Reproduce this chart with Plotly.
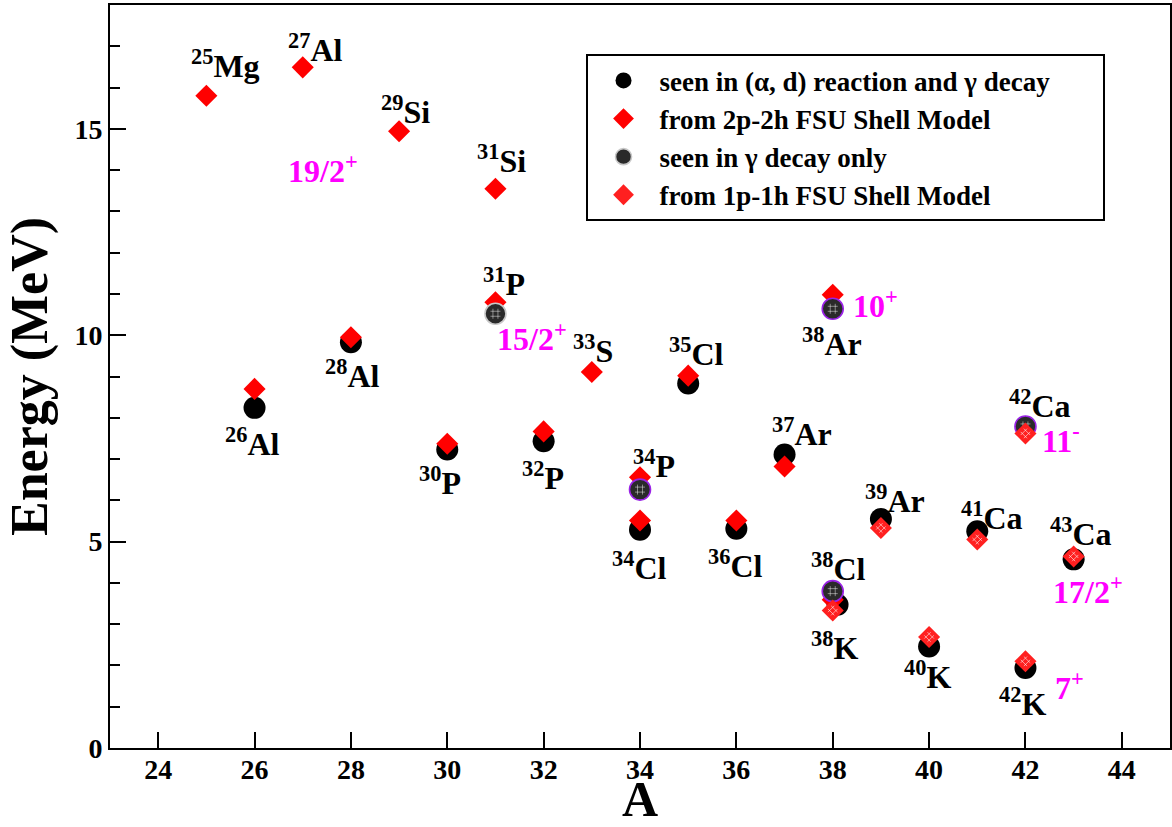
import plotly.graph_objects as go

FONT = "Liberation Serif, Times New Roman, serif"

# ---- data (A = mass number, E = excitation energy in MeV) ----
seen_ad_A = [26, 28, 30, 32, 34, 35, 36, 37, 38.1, 39, 40, 41, 42, 43]
seen_ad_E = [8.24, 9.83, 7.23, 7.43, 5.29, 8.83, 5.31, 7.11, 3.47, 5.55, 2.46, 5.25, 1.94, 4.57]

sm2p2h_A = [25, 26, 27, 28, 29, 30, 31, 31, 32, 33, 34, 34, 35, 36, 37, 38, 38]
sm2p2h_E = [15.80, 8.70, 16.49, 9.95, 14.94, 7.37, 13.55, 10.80, 7.67, 9.11, 6.56, 5.51,
            9.02, 5.51, 6.82, 10.98, 3.59]

gamma_A = [31, 34, 38, 38, 42]
gamma_E = [10.52, 6.26, 10.64, 3.80, 7.79]
gamma_nuc = ["31P", "34P", "38Ar", "38Cl", "42Ca"]

sm1p1h_A = [38, 39, 40, 41, 42, 42, 43]
sm1p1h_E = [3.33, 5.33, 2.69, 5.05, 2.10, 7.62, 4.64]

# nucleus labels: mass number, symbol, label anchor (A, E)
nuc_mass = ["25", "27", "29", "31", "31", "33", "35", "26", "28", "30", "32", "34", "34",
            "36", "37", "38", "39", "41", "42", "43", "38", "38", "40", "42"]
nuc_sym = ["Mg", "Al", "Si", "Si", "P", "S", "Cl", "Al", "Al", "P", "P", "P", "Cl",
           "Cl", "Ar", "Ar", "Ar", "Ca", "Ca", "Ca", "Cl", "K", "K", "K"]
nuc_lab_A = [24.63, 26.66, 28.58, 30.58, 30.71, 32.57, 34.57, 25.35, 27.42, 29.37, 31.51,
             33.82, 33.37, 35.37, 36.70, 37.32, 38.63, 40.63, 41.62, 42.47, 37.51, 37.51,
             39.43, 41.40]
nuc_lab_E = [16.48, 16.85, 15.35, 14.18, 11.19, 9.57, 9.49, 7.31, 8.97, 6.38, 6.50,
             6.79, 4.32, 4.36, 7.57, 9.75, 5.94, 5.53, 8.24, 5.13, 4.30, 2.38, 1.66, 1.01]

# spin-parity labels
spin_val = ["19/2", "15/2", "10", "11", "17/2", "7"]
spin_par = ["+", "+", "+", "-", "+", "+"]
spin_lab_A = [26.66, 30.99, 38.38, 42.30, 42.54, 42.57]
spin_lab_E = [13.94, 9.85, 10.66, 7.39, 3.72, 1.41]

x_ticks = [24, 26, 28, 30, 32, 34, 36, 38, 40, 42, 44]
y_ticks = [0, 5, 10, 15]

# ---- figure ----
fig = go.Figure()

PAD = "\u00a0" * 7

fig.add_trace(go.Scatter(
    x=seen_ad_A, y=seen_ad_E, mode="markers",
    name="seen in (\u03b1, d) reaction and \u03b3 decay" + PAD, legendgroup="g1",
    marker=dict(symbol="circle", size=22, color="black", line=dict(width=0))))

fig.add_trace(go.Scatter(
    x=sm2p2h_A, y=sm2p2h_E, mode="markers",
    name="from 2p-2h FSU Shell Model", legendgroup="g2",
    marker=dict(symbol="diamond", size=17, color="#ff0000", line=dict(width=0))))

rim = ["#c8c8c8" if n == "31P" else "#9a22e6" for n in gamma_nuc]
fig.add_trace(go.Scatter(
    x=gamma_A, y=gamma_E, mode="markers",
    name="seen in \u03b3 decay only", legendgroup="g3",
    marker=dict(symbol="circle", size=21, color="#2a2a2a", line=dict(width=1.6, color=rim))))
fig.add_trace(go.Scatter(
    x=gamma_A, y=gamma_E, mode="markers", showlegend=False, hoverinfo="skip",
    legendgroup="g3",
    marker=dict(symbol="hash-open", size=10, color="rgba(255,255,255,0.45)",
                line=dict(width=1))))

fig.add_trace(go.Scatter(
    x=sm1p1h_A, y=sm1p1h_E, mode="markers",
    name="from 1p-1h FSU Shell Model", legendgroup="g4",
    marker=dict(symbol="diamond", size=17, color="#ff2020", line=dict(width=0))))
fig.add_trace(go.Scatter(
    x=sm1p1h_A, y=sm1p1h_E, mode="markers", showlegend=False, hoverinfo="skip",
    legendgroup="g4",
    marker=dict(symbol="hash-open", size=9, angle=45, color="rgba(255,255,255,0.55)",
                line=dict(width=1))))

annotations = []
for m, s, a, e in zip(nuc_mass, nuc_sym, nuc_lab_A, nuc_lab_E):
    annotations.append(dict(
        x=a, y=e, xref="x", yref="y", text=f"<sup>{m}</sup>{s}", showarrow=False,
        xanchor="left", yanchor="middle", yshift=4,
        font=dict(family=FONT, size=32, color="black", weight="bold")))
for v, p, a, e in zip(spin_val, spin_par, spin_lab_A, spin_lab_E):
    annotations.append(dict(
        x=a, y=e, xref="x", yref="y", text=f"{v}<sup>{p}</sup>", showarrow=False,
        xanchor="left", yanchor="middle", yshift=4,
        font=dict(family=FONT, size=32, color="#ff00ff", weight="bold")))

axis_common = dict(
    showgrid=False, zeroline=False, showline=True, linewidth=2, linecolor="black",
    mirror=True, ticks="inside", ticklen=16, tickwidth=2, tickcolor="black",
    tickfont=dict(family=FONT, size=28, color="black", weight="bold"),
)

fig.update_layout(
    width=1172, height=827,
    margin=dict(l=110, r=2, t=5, b=79),
    paper_bgcolor="white", plot_bgcolor="white",
    font=dict(family=FONT, color="black"),
    showlegend=True,
    legend=dict(
        x=0.4486, y=0.9335, xanchor="left", yanchor="top",
        bgcolor="white", bordercolor="black", borderwidth=2,
        font=dict(family=FONT, size=27, color="black", weight="bold"),
        itemwidth=62, tracegroupgap=0, itemsizing="trace",
    ),
    xaxis=dict(
        range=[23, 45], tickmode="array", tickvals=x_ticks,
        ticktext=[str(t) for t in x_ticks], ticklabelstandoff=-5,
        title=dict(text="A", standoff=12,
                   font=dict(family=FONT, size=50, color="black", weight="bold")),
        automargin=False, **axis_common),
    yaxis=dict(
        range=[0, 18], tickmode="array", tickvals=y_ticks,
        ticktext=[str(t) for t in y_ticks],
        minor=dict(dtick=1, tick0=0, ticks="inside", ticklen=10, tickwidth=2, tickcolor="black"),
        title=dict(text="Energy (MeV)", standoff=10,
                   font=dict(family=FONT, size=52, color="black", weight="bold")),
        automargin=False, **axis_common),
    annotations=annotations,
)

fig.write_html("out.html", config={"displayModeBar": False},
               post_script="document.body.style.margin='0';document.body.style.overflow='hidden';")
